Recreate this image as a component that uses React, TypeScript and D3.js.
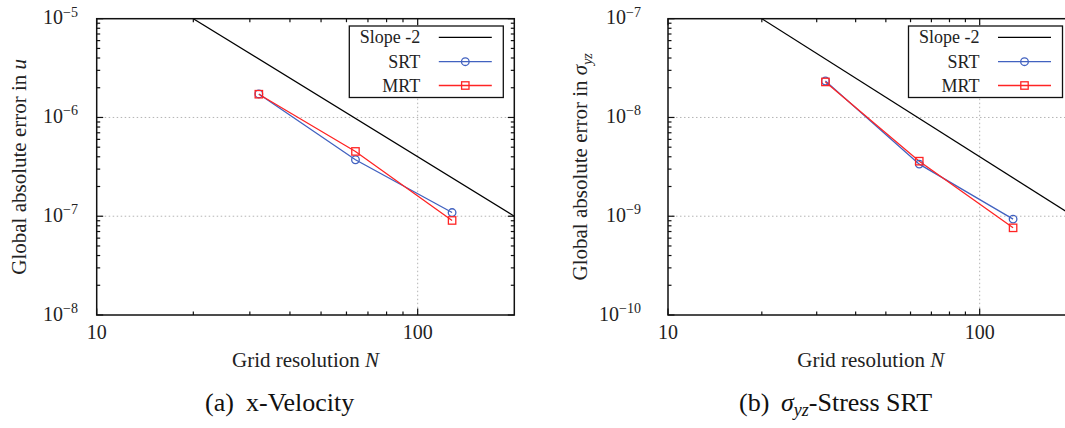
import React from 'react';
import * as d3 from 'd3';

// ---- data ----
const gridN = [32, 64, 128];
const srtU = [1.73e-6, 3.73e-7, 1.09e-7];
const mrtU = [1.72e-6, 4.53e-7, 9.06e-8];
const srtS = [2.34e-8, 3.37e-9, 9.35e-10];
const mrtS = [2.29e-8, 3.61e-9, 7.63e-10];
const slopeN = [20, 200];
const slopeU = [1e-5, 1e-7];
const slopeS = [1e-7, 1e-9];
const xMajor = [10, 100];
const xMinor = [20, 30, 40, 50, 60, 70, 80, 90];
const uExps = [-8, -7, -6, -5];
const sExps = [-10, -9, -8, -7];
const legendLabels = ['Slope -2', 'SRT', 'MRT'];

const FONT = "'Liberation Serif', 'Times New Roman', Times, serif";
const BLUE = '#4262c0';
const RED = '#ff2424';

type PanelProps = {
  id: string;
  left: number;
  right: number;
  exps: number[];
  srt: number[];
  mrt: number[];
  slope: number[];
  yLabelEnd: number;
  yTitleX: number;
  yTitle: React.ReactNode;
  caption: React.ReactNode;
};

const TOP = 18.7;
const BOTTOM = 315;

function Panel(p: PanelProps) {
  const x = d3.scaleLog().domain([10, 200]).range([p.left, p.right]);
  const lo = p.exps[0];
  const hi = p.exps[p.exps.length - 1];
  const y = d3.scaleLog().domain([Math.pow(10, lo), Math.pow(10, hi)]).range([BOTTOM, TOP]);
  const line = d3
    .line<[number, number]>()
    .x((d) => x(d[0]))
    .y((d) => y(d[1]));
  const yMinor: number[] = [];
  for (let k = lo; k < hi; k++) for (let m = 2; m <= 9; m++) yMinor.push(m * Math.pow(10, k));
  const maj = 6.5;
  const mnr = 3.5;
  const ticks: JSX.Element[] = [];
  xMajor.forEach((v, i) => {
    const xx = x(v);
    ticks.push(<line key={'xb' + i} x1={xx} x2={xx} y1={BOTTOM} y2={BOTTOM - maj} />);
    ticks.push(<line key={'xt' + i} x1={xx} x2={xx} y1={TOP} y2={TOP + maj} />);
  });
  xMinor.forEach((v, i) => {
    const xx = x(v);
    ticks.push(<line key={'xbm' + i} x1={xx} x2={xx} y1={BOTTOM} y2={BOTTOM - mnr} />);
    ticks.push(<line key={'xtm' + i} x1={xx} x2={xx} y1={TOP} y2={TOP + mnr} />);
  });
  p.exps.forEach((e, i) => {
    const yy = y(Math.pow(10, e));
    ticks.push(<line key={'yl' + i} x1={p.left} x2={p.left + maj} y1={yy} y2={yy} />);
    ticks.push(<line key={'yr' + i} x1={p.right} x2={p.right - maj} y1={yy} y2={yy} />);
  });
  yMinor.forEach((v, i) => {
    const yy = y(v);
    ticks.push(<line key={'ylm' + i} x1={p.left} x2={p.left + mnr} y1={yy} y2={yy} />);
    ticks.push(<line key={'yrm' + i} x1={p.right} x2={p.right - mnr} y1={yy} y2={yy} />);
  });

  const srtPts = gridN.map((n, i) => [n, p.srt[i]] as [number, number]);
  const mrtPts = gridN.map((n, i) => [n, p.mrt[i]] as [number, number]);
  const slopePts = slopeN.map((n, i) => [n, p.slope[i]] as [number, number]);

  const boxW = 154;
  const boxL = p.right - 11 - boxW;
  const boxT = 26;
  const rows = [11.3, 35.7, 59.5];
  const sq = 7.4;
  const cr = 3.8;

  return (
    <g>
      <defs>
        <clipPath id={'clip-' + p.id}>
          <rect x={p.left} y={TOP} width={p.right - p.left} height={BOTTOM - TOP} />
        </clipPath>
      </defs>
      {/* grid */}
      <g stroke="#b4b4b4" strokeWidth={1} strokeDasharray="1.5,2.5">
        {p.exps.slice(1, -1).map((e) => (
          <line key={e} x1={p.left} x2={p.right} y1={y(Math.pow(10, e))} y2={y(Math.pow(10, e))} />
        ))}
        <line x1={x(100)} x2={x(100)} y1={TOP} y2={BOTTOM} />
      </g>
      <g clipPath={`url(#clip-${p.id})`} fill="none">
        <path d={line(slopePts) || ''} stroke="#000" strokeWidth={1.3} />
        <path d={line(srtPts) || ''} stroke={BLUE} strokeWidth={1.3} />
        <path d={line(mrtPts) || ''} stroke={RED} strokeWidth={1.3} />
      </g>
      <g fill="none">
        {srtPts.map((d, i) => (
          <circle key={'c' + i} cx={x(d[0])} cy={y(d[1])} r={cr} stroke={BLUE} strokeWidth={1.3} />
        ))}
        {mrtPts.map((d, i) => (
          <rect key={'s' + i} x={x(d[0]) - sq / 2} y={y(d[1]) - sq / 2} width={sq} height={sq} stroke={RED} strokeWidth={1.3} />
        ))}
      </g>
      {/* frame & ticks */}
      <g stroke="#111" strokeWidth={1.2}>{ticks}</g>
      <rect x={p.left} y={TOP} width={p.right - p.left} height={BOTTOM - TOP} fill="none" stroke="#111" strokeWidth={1.5} />
      {/* tick labels */}
      <g fontFamily={FONT} fill="#222">
        {xMajor.map((v) => (
          <text key={v} x={x(v)} y={339.3} fontSize={20} textAnchor="middle">
            {v}
          </text>
        ))}
        {p.exps.map((e) => (
          <text key={e} x={p.yLabelEnd} y={y(Math.pow(10, e)) + 5.5} fontSize={20} textAnchor="end">
            10
            <tspan fontSize={14} dy={-7.5}>
              {'\u2212' + Math.abs(e)}
            </tspan>
          </text>
        ))}
      </g>
      {/* axis titles */}
      <text x={(p.left + p.right) / 2} y={366.7} fontFamily={FONT} fontSize={21} textAnchor="middle" fill="#222">
        Grid resolution <tspan fontStyle="italic">N</tspan>
      </text>
      <text
        transform={`translate(${p.yTitleX},${(TOP + BOTTOM) / 2}) rotate(-90)`}
        fontFamily={FONT}
        fontSize={21}
        textAnchor="middle"
        fill="#222"
      >
        {p.yTitle}
      </text>
      {/* legend */}
      <rect x={boxL} y={boxT} width={boxW} height={71.5} fill="#fff" stroke="#111" strokeWidth={1.3} />
      <g fontFamily={FONT} fontSize={18} fill="#222" textAnchor="end">
        {legendLabels.map((t, i) => (
          <text key={t} x={boxL + 71} y={boxT + rows[i] + 6}>
            {t}
          </text>
        ))}
      </g>
      <line x1={boxL + 89.5} x2={boxL + 142.5} y1={boxT + rows[0]} y2={boxT + rows[0]} stroke="#000" strokeWidth={1.3} />
      <line x1={boxL + 89.5} x2={boxL + 142.5} y1={boxT + rows[1]} y2={boxT + rows[1]} stroke={BLUE} strokeWidth={1.3} />
      <circle cx={boxL + 116} cy={boxT + rows[1]} r={cr} fill="none" stroke={BLUE} strokeWidth={1.3} />
      <line x1={boxL + 89.5} x2={boxL + 142.5} y1={boxT + rows[2]} y2={boxT + rows[2]} stroke={RED} strokeWidth={1.3} />
      <rect x={boxL + 116 - sq / 2} y={boxT + rows[2] - sq / 2} width={sq} height={sq} fill="none" stroke={RED} strokeWidth={1.3} />
      {p.caption}
    </g>
  );
}

export default function App() {
  return (
    <svg
      width={1065}
      height={428}
      style={{ position: 'absolute', left: 0, top: 0, background: '#fff' }}
    >
      <rect x={0} y={0} width={1065} height={428} fill="#fff" />
      <Panel
        id="u"
        left={96.7}
        right={514.3}
        exps={uExps}
        srt={srtU}
        mrt={mrtU}
        slope={slopeU}
        yLabelEnd={78}
        yTitleX={25.5}
        yTitle={
          <>
            Global absolute error in <tspan fontStyle="italic">u</tspan>
          </>
        }
        caption={
          <text y={410.7} fontFamily={FONT} fontSize={26} fill="#111">
            <tspan x={205}>(a)</tspan>
            <tspan x={246}>x-Velocity</tspan>
          </text>
        }
      />
      <Panel
        id="s"
        left={668}
        right={1073.5}
        exps={sExps}
        srt={srtS}
        mrt={mrtS}
        slope={slopeS}
        yLabelEnd={641}
        yTitleX={586.5}
        yTitle={
          <>
            Global absolute error in <tspan fontStyle="italic">σ</tspan>
            <tspan fontStyle="italic" fontSize={14} dy={5}>
              yz
            </tspan>
          </>
        }
        caption={
          <text y={410.7} fontFamily={FONT} fontSize={26} fill="#111">
            <tspan x={739}>(b)</tspan>
            <tspan x={781} fontStyle="italic">σ</tspan>
            <tspan fontStyle="italic" fontSize={18} dy={5}>
              yz
            </tspan>
            <tspan dy={-5}>-Stress SRT</tspan>
          </text>
        }
      />
    </svg>
  );
}
